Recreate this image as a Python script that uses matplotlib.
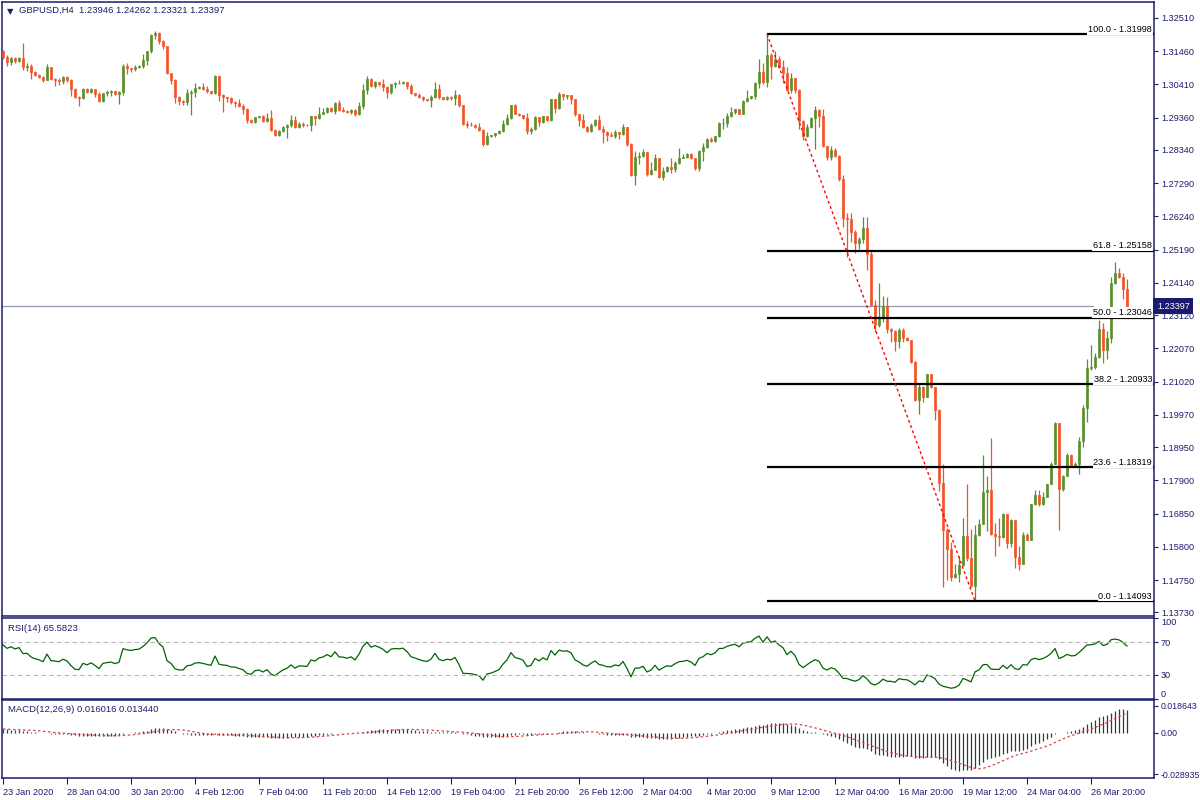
import matplotlib
matplotlib.use("Agg")
import matplotlib.pyplot as plt
import matplotlib.transforms as mtransforms
import numpy as np
import pandas as pd

plt.rcParams['font.family'] = ['Liberation Sans', 'DejaVu Sans']

navy = '#1c1c6e'
bull = '#5b8f2c'
bear = '#f4532a'
fs = 6.6

# ---- data (GBPUSD H4) ----
header = "GBPUSD,H4  1.23946 1.24262 1.23321 1.23397"
first_open = 1.3146
close = [
    # 23 Jan - 30 Jan
    1.3127, 1.3111, 1.3124, 1.3114, 1.3124, 1.3095, 1.3098, 1.3079, 1.3070, 1.3064,
    1.3054, 1.3095, 1.3057, 1.3055, 1.3051, 1.3064, 1.3054, 1.3026, 1.3000, 1.2997,
    1.3026, 1.3016, 1.3026, 1.3010, 1.2987, 1.3013, 1.3016, 1.3019, 1.3010, 1.3016,
    1.3098, 1.3092, 1.3089, 1.3095, 1.3098, 1.3117, 1.3146, 1.3197, 1.3203, 1.3178,
    1.3162, 1.3076, 1.3054, 1.3000, 1.2987, 1.2986, 1.3013,
    # early Feb
    1.3016, 1.3029, 1.3032, 1.3026, 1.3019, 1.3013, 1.3067, 1.3007, 1.3000, 1.2997,
    1.2984, 1.2983, 1.2972, 1.2962, 1.2930, 1.2921, 1.2937, 1.2940, 1.2924, 1.2934,
    1.2896, 1.2880, 1.2893, 1.2905, 1.2912, 1.2927, 1.2905, 1.2915, 1.2914, 1.2912,
    1.2940, 1.2934, 1.2949, 1.2953, 1.2965, 1.2956, 1.2981, 1.2959, 1.2958, 1.2953,
    1.2959, 1.2946, 1.2972, 1.3022, 1.3057, 1.3035, 1.3048,
    # mid / late Feb
    1.3041, 1.3032, 1.3016, 1.3041, 1.3045, 1.3044, 1.3048, 1.3035, 1.3013, 1.3007,
    1.3000, 1.2994, 1.2991, 1.3000, 1.3026, 1.3000, 1.2994, 1.3000, 1.2997, 1.3007,
    1.2975, 1.2915, 1.2914, 1.2912, 1.2905, 1.2896, 1.2854, 1.2877, 1.2880, 1.2886,
    1.2893, 1.2915, 1.2934, 1.2975, 1.2949, 1.2943, 1.2934, 1.2893, 1.2899, 1.2937,
    1.2921, 1.2940, 1.2927, 1.2994, 1.2965, 1.3010,
    # late Feb - 6 Mar
    1.3003, 1.3006, 1.2994, 1.2946, 1.2930, 1.2905, 1.2893, 1.2912, 1.2927, 1.2899,
    1.2892, 1.2880, 1.2879, 1.2889, 1.2883, 1.2905, 1.2854, 1.2756, 1.2813, 1.2814,
    1.2826, 1.2759, 1.2772, 1.2807, 1.2747, 1.2766, 1.2781, 1.2775, 1.2794, 1.2810,
    1.2813, 1.2820, 1.2807, 1.2778, 1.2829, 1.2842, 1.2870, 1.2861, 1.2877, 1.2918,
    1.2919, 1.2940, 1.2953, 1.2962, 1.2949, 1.2987, 1.2997, 1.3003, 1.3045,
    # 9 Mar - 18 Mar
    1.3079, 1.3048, 1.3133, 1.3098, 1.3121, 1.3095, 1.3076, 1.3022, 1.3060, 1.3022,
    1.2924, 1.2877, 1.2905, 1.2934, 1.2959, 1.2940, 1.2845, 1.2813, 1.2835, 1.2816,
    1.2743, 1.2620, 1.2617, 1.2575, 1.2540, 1.2553, 1.2588, 1.2506, 1.2344, 1.2281,
    1.2303, 1.2341, 1.2268, 1.2262, 1.2230, 1.2265, 1.2240, 1.2233, 1.2163, 1.2043,
    1.2084, 1.2053, 1.2126, 1.2084, 1.2011,
    # 19 Mar - 27 Mar
    1.1783, 1.1634, 1.1574, 1.1486, 1.1495, 1.1524, 1.1615, 1.1546, 1.1457, 1.1618,
    1.1653, 1.1755, 1.1761, 1.1622, 1.1615, 1.1612, 1.1685, 1.1593, 1.1666, 1.1549,
    1.1527, 1.1618, 1.1603, 1.1714, 1.1745, 1.1717, 1.1739, 1.1780, 1.1843, 1.1970,
    1.1764, 1.1805, 1.1869, 1.1837, 1.1843, 1.1916, 1.2018, 1.2145, 1.2148, 1.2179,
    1.2268, 1.2202, 1.2240, 1.2414, 1.2446, 1.2433, 1.23946, 1.23397,
]
# wick lengths in pips above / below the body
upper_wick = [
    5, 6, 3, 2, 4, 48, 12, 7, 5, 4, 2, 10, 2, 5, 5, 2, 2, 5, 2, 3,
    3, 3, 2, 0, 7, 2, 8, 5, 0, 3, 8, 12, 0, 8, 5, 21, 0, 3, 7, 3,
    2, 0, 2, 3, 5, 6, 13,
    8, 16, 5, 13, 10, 0, 3, 0, 5, 2, 4, 5, 11, 8, 3, 3, 2, 2, 5, 16,
    25, 3, 3, 3, 3, 18, 15, 7, 7, 2, 2, 2, 19, 12, 3, 5, 3, 10, 11, 3,
    4, 3, 12, 21, 12, 3, 3,
    2, 17, 5, 2, 5, 9, 3, 2, 6, 2, 7, 3, 2, 7, 22, 15, 2, 3, 3, 15,
    3, 2, 10, 7, 5, 13, 3, 12, 2, 2, 5, 12, 15, 2, 5, 3, 2, 17, 8, 3,
    2, 0, 0, 2, 2, 7,
    2, 3, 0, 2, 2, 17, 5, 6, 5, 18, 12, 3, 10, 7, 2, 11, 2, 2, 17, 12,
    12, 2, 25, 15, 2, 15, 2, 27, 5, 30, 7, 5, 5, 3, 5, 15, 2, 4, 2, 4,
    17, 10, 15, 2, 2, 5, 27, 2, 4,
    43, 28, 67, 8, 25, 10, 23, 20, 17, 0, 5, 4, 11, 3, 15, 3, 22, 2, 12, 5,
    2, 13, 14, 18, 5, 7, 35, 35, 12, 17, 110, 30, 28, 3, 3, 7, 5, 3, 2, 3,
    10, 5, 0, 0, 0,
    5, 58, 5, 20, 30, 27, 55, 165, 90, 32, 15, 115, 42, 162, 33, 55, 2, 0, 3, 0,
    35, 8, 7, 1, 14, 14, 14, 0, 6, 3, 0, 2, 8, 3, 6, 10, 10, 30, 70, 15,
    28, 18, 23, 20, 33, 14, 12, 32,
]
lower_wick = [
    5, 13, 10, 7, 3, 10, 12, 22, 3, 2, 6, 0, 2, 20, 12, 9, 4, 23, 2, 23,
    3, 2, 2, 8, 3, 2, 8, 11, 3, 32, 8, 18, 10, 5, 3, 5, 15, 7, 13, 8,
    10, 1, 13, 17, 10, 10, 10,
    69, 15, 2, 2, 5, 3, 2, 17, 45, 13, 5, 13, 3, 15, 10, 2, 3, 3, 3, 3,
    3, 2, 3, 2, 33, 5, 2, 2, 9, 2, 18, 21, 3, 2, 2, 3, 8, 3, 3, 2,
    5, 5, 2, 9, 10, 2, 4,
    5, 13, 17, 5, 10, 3, 2, 8, 3, 4, 2, 5, 2, 20, 3, 4, 3, 2, 4, 20,
    5, 2, 10, 2, 2, 3, 8, 3, 2, 5, 3, 2, 2, 2, 3, 2, 2, 8, 8, 3,
    10, 2, 2, 2, 15, 3,
    10, 9, 15, 5, 20, 2, 3, 2, 2, 2, 35, 17, 2, 7, 13, 3, 9, 5, 33, 23,
    3, 8, 3, 3, 2, 7, 2, 13, 10, 5, 3, 3, 3, 7, 12, 30, 2, 3, 2, 3,
    18, 12, 3, 6, 3, 3, 2, 3, 9,
    17, 7, 15, 40, 3, 3, 32, 2, 7, 7, 23, 13, 2, 3, 97, 35, 3, 10, 10, 3,
    6, 30, 121, 33, 32, 20, 12, 52, 3, 23, 5, 13, 13, 34, 30, 23, 12, 2, 3, 2,
    42, 15, 0, 3, 30,
    25, 180, 100, 15, 3, 25, 3, 10, 5, 48, 3, 0, 125, 5, 63, 28, 5, 15, 12, 35,
    20, 0, 1, 1, 1, 9, 4, 1, 1, 1, 130, 7, 1, 2, 3, 32, 20, 43, 5, 5,
    3, 40, 30, 15, 2, 3, 30, 8,
]

price_ticks = [1.32510, 1.31460, 1.30410, 1.29360, 1.28340, 1.27290, 1.26240,
               1.25190, 1.24140, 1.23120, 1.22070, 1.21020, 1.19970, 1.18950,
               1.17900, 1.16850, 1.15800, 1.14750, 1.13730]
time_labels = ["23 Jan 2020", "28 Jan 04:00", "30 Jan 20:00", "4 Feb 12:00",
               "7 Feb 04:00", "11 Feb 20:00", "14 Feb 12:00", "19 Feb 04:00",
               "21 Feb 20:00", "26 Feb 12:00", "2 Mar 04:00", "4 Mar 20:00",
               "9 Mar 12:00", "12 Mar 04:00", "16 Mar 20:00", "19 Mar 12:00",
               "24 Mar 04:00", "26 Mar 20:00"]
bars_per_label = 16

fib_levels = [100.0, 61.8, 50.0, 38.2, 23.6, 0.0]
fib_prices = [1.31998, 1.25158, 1.23046, 1.20933, 1.18319, 1.14093]
fib_high_bar = 191
fib_low_bar = 243
bid = 1.23397

rsi_text = "RSI(14) 65.5823"
rsi_ticks = [100, 70, 30, 0]
# averages carried in from before the first visible bar (RSI ~67 at the left edge)
rsi_seed_gain, rsi_seed_loss = 0.0013, 0.0005
macd_text = "MACD(12,26,9) 0.016016 0.013440"
macd_ticks = [0.018643, 0.0, -0.028935]
macd_tick_text = ["0.018643", "0.00", "-0.028935"]
# EMAs carried in from before the first visible bar (MACD ~ +0.0028 at the left edge)
ema12_seed, ema26_seed = 1.3130, 1.3102

# ---- derived series ----
c = pd.Series(close)
o = np.r_[first_open, c.values[:-1]]
hi = np.maximum(o, c.values) + np.array(upper_wick) * 1e-4
lo = np.minimum(o, c.values) - np.array(lower_wick) * 1e-4
idx = np.arange(len(c))

d = c - o
gain = pd.Series([rsi_seed_gain] + list(d.clip(lower=0))).ewm(alpha=1 / 14, adjust=False).mean().iloc[1:]
loss = pd.Series([rsi_seed_loss] + list((-d).clip(lower=0))).ewm(alpha=1 / 14, adjust=False).mean().iloc[1:]
rsi = (100 - 100 / (1 + gain / loss)).values

ema12 = pd.Series([ema12_seed] + close).ewm(span=12, adjust=False).mean().iloc[1:]
ema26 = pd.Series([ema26_seed] + close).ewm(span=26, adjust=False).mean().iloc[1:]
macd = (ema12 - ema26).reset_index(drop=True)
signal = macd.rolling(9, min_periods=1).mean()

# ---- layout (pixel based, 1200x800) ----
W, H = 1200, 800
fig = plt.figure(figsize=(12, 8), dpi=100)


def add_panel(x0, y0, x1, y1):
    return fig.add_axes([x0 / W, 1 - y1 / H, (x1 - x0) / W, (y1 - y0) / H])


ax = add_panel(2, 2, 1154, 616)
ax_rsi = add_panel(2, 618, 1154, 699)
ax_macd = add_panel(2, 700, 1154, 778)

xl = (-0.25, 287.75)
for a in (ax, ax_rsi, ax_macd):
    a.set_xlim(*xl)
    for s in a.spines.values():
        s.set_color(navy)
        s.set_linewidth(1.1)
    a.yaxis.tick_right()
    a.tick_params(axis='y', direction='out', length=3, colors=navy,
                  labelsize=fs, pad=2)
    a.tick_params(axis='x', bottom=False, labelbottom=False)

# candles
cols = np.where(c.values >= o, bull, bear)
ax.vlines(idx, lo, hi, colors=cols, lw=0.9, zorder=2)
ax.bar(idx, np.abs(c.values - o), bottom=np.minimum(o, c.values), width=0.6,
       color=cols, edgecolor=cols, linewidth=0.5, zorder=3)

ax.set_ylim(1.13618, 1.33012)
ax.set_yticks(price_ticks)
ax.set_yticklabels([f"{t:.5f}" for t in price_ticks])

# fibonacci retracement
ax.hlines(fib_prices, fib_high_bar, xl[1], colors='black', lw=1.6, zorder=4)
ax.plot([fib_high_bar, fib_low_bar], [fib_prices[0], fib_prices[-1]],
        color='red', lw=1, ls=(0, (2, 2)), zorder=4)

# bid line and label
ax.axhline(bid, xmax=0.947, color='#8e9cae', lw=0.9, zorder=1)
for lvl, p in zip(fib_levels, fib_prices):
    ax.text(xl[1] - 0.5, p + 0.0001, f"{lvl:.1f} - {p:.5f}", ha='right',
            va='bottom', fontsize=fs, color='black', zorder=6,
            bbox=dict(fc='white', ec='none', pad=0.6))
trans = mtransforms.blended_transform_factory(ax.transAxes, ax.transData)
ax.text(1.0025, bid, f"{bid:.5f}", transform=trans, ha='left', va='center',
        fontsize=fs, color='white', zorder=7,
        bbox=dict(fc='#1a1a6e', ec='none', pad=2.6))

ax.text(0.0045, 0.992, "\u25bc", transform=ax.transAxes, fontsize=6,
        family='DejaVu Sans', color=navy, va='top')
ax.text(0.0145, 0.993, header, transform=ax.transAxes, fontsize=fs + 0.2,
        color=navy, va='top')

# RSI
ax_rsi.plot(idx, rsi, color='#006400', lw=0.9)
for lvl in (70, 30):
    ax_rsi.axhline(lvl, color='#b8b8b8', lw=0.8, ls=(0, (4, 3)))
ax_rsi.set_ylim(0, 100)
ax_rsi.set_yticks(rsi_ticks)
ax_rsi.set_yticklabels([str(t) for t in rsi_ticks])
rl = ax_rsi.get_yticklabels()
rl[0].set_verticalalignment('top')
rl[-1].set_verticalalignment('bottom')
ax_rsi.text(0.005, 0.93, rsi_text, transform=ax_rsi.transAxes, fontsize=fs + 0.2,
            color=navy, va='top')

# MACD
ax_macd.vlines(idx, 0, macd, colors='#2f3c3c', lw=0.9)
ax_macd.plot(idx, signal, color='#d04848', lw=0.9, ls=(0, (2, 2)))
ax_macd.set_ylim(-0.03173, 0.02284)
ax_macd.set_yticks(macd_ticks)
ax_macd.set_yticklabels(macd_tick_text)
ax_macd.tick_params(axis='y', labelsize=fs - 0.3)
ax_macd.text(0.005, 0.93, macd_text, transform=ax_macd.transAxes, fontsize=fs + 0.2,
             color=navy, va='top')

tick_pos = np.arange(len(time_labels)) * bars_per_label
ax_macd.set_xticks(tick_pos)
ax_macd.set_xticklabels(time_labels)
ax_macd.tick_params(axis='x', bottom=True, labelbottom=True, direction='out',
                    length=4, colors=navy, labelsize=fs, pad=3)
for lab in ax_macd.get_xticklabels():
    lab.set_horizontalalignment('left')

fig.savefig("out.png", dpi=100)
